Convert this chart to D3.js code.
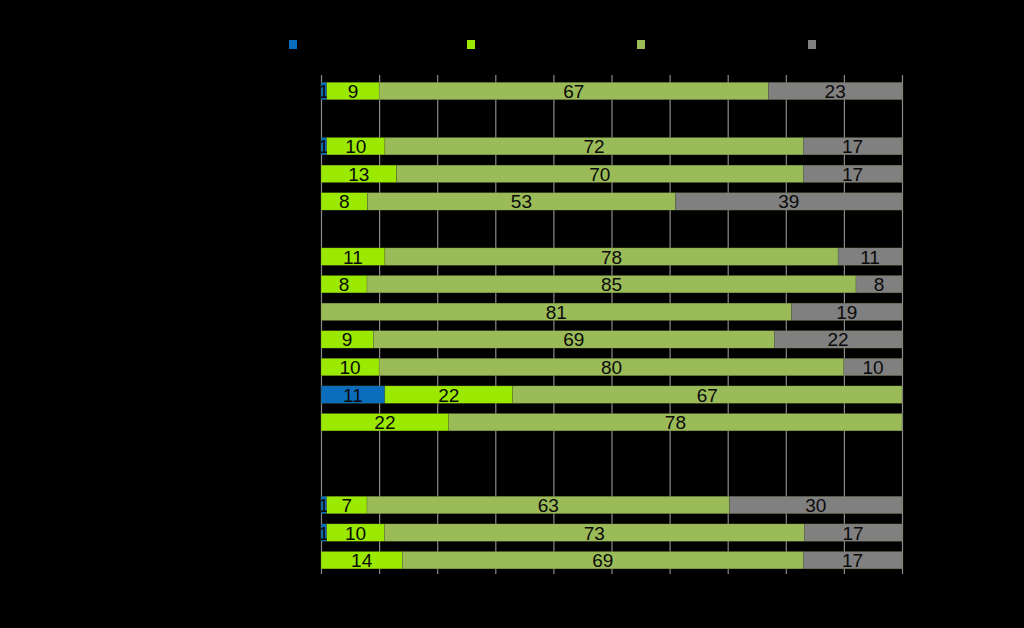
<!DOCTYPE html>
<html>
<head>
<meta charset="utf-8">
<script src="https://cdn.jsdelivr.net/npm/d3@7"></script>
<style>
  html, body { margin: 0; padding: 0; background: #000; }
  svg { display: block; }
</style>
</head>
<body>
<svg id="chart" width="1024" height="628"></svg>
<script>
// Row slots (empty strings are spacer rows)
const categories = ["r0", "", "r2", "r3", "r4", "", "r6", "r7", "r8", "r9", "r10", "r11", "r12", "", "", "r15", "r16", "r17"];
const seriesKeys = ["s1", "s2", "s3", "s4"];
const seriesColors = ["#0a6ebd", "#9be800", "#9bbb59", "#808080"];
const s1 = [1, null, 1, 0, 0, null, 0, 0, 0, 0, 0, 11, 0, null, null, 1, 1, 0];
const s2 = [9, null, 10, 13, 8, null, 11, 8, 0, 9, 10, 22, 22, null, null, 7, 10, 14];
const s3 = [67, null, 72, 70, 53, null, 78, 85, 81, 69, 80, 67, 78, null, null, 63, 73, 69];
const s4 = [23, null, 17, 17, 39, null, 11, 8, 19, 22, 10, 0, 0, null, null, 30, 17, 17];
const xTicks = [0, 10, 20, 30, 40, 50, 60, 70, 80, 90, 100];

const svg = d3.select("#chart");
const x = d3.scaleLinear().domain([0, 100]).range([321, 902]);
const y = d3.scaleBand().domain(d3.range(categories.length)).range([77.2, 574])
  .paddingInner(0.37).paddingOuter(0.185);

// gridlines
svg.append("g").selectAll("line").data(xTicks).join("line")
  .attr("x1", d => x(d) + 0.5).attr("x2", d => x(d) + 0.5)
  .attr("y1", 75).attr("y2", 574)
  .attr("stroke", "#8a8a8a").attr("stroke-width", 1.2);

const series = [s1, s2, s3, s4];
const rows = categories.map((c, i) => {
  if (s1[i] === null) return null;
  const vals = series.map(s => s[i]);
  const total = d3.sum(vals);
  let acc = 0;
  return vals.map((v, k) => {
    const seg = { i, k, v, x0: acc / total * 100, x1: (acc + v) / total * 100 };
    acc += v;
    return seg;
  });
}).filter(r => r);
const segs = rows.flat().filter(s => s.v > 0);

const defs = svg.append("defs");
defs.selectAll("clipPath").data(segs).join("clipPath")
  .attr("id", (d, j) => "c" + j)
  .append("rect")
  .attr("x", d => x(d.x0)).attr("width", d => x(d.x1) - x(d.x0))
  .attr("y", d => y(d.i)).attr("height", y.bandwidth());

const g = svg.append("g");
g.selectAll("rect").data(segs).join("rect")
  .attr("x", d => x(d.x0)).attr("width", d => x(d.x1) - x(d.x0))
  .attr("y", d => y(d.i)).attr("height", y.bandwidth())
  .attr("fill", d => seriesColors[d.k])
  .attr("stroke", "#4f5f2a").attr("stroke-width", 0.3);

g.selectAll("text").data(segs).join("text")
  .attr("clip-path", (d, j) => "url(#c" + j + ")")
  .attr("x", d => (x(d.x0) + x(d.x1)) / 2)
  .attr("y", d => y(d.i) + y.bandwidth() / 2 + 7)
  .attr("text-anchor", "middle")
  .attr("font-family", "Liberation Sans, Arial, sans-serif")
  .attr("font-size", 19)
  .attr("fill", "#0a0a0a")
  .text(d => d.v);

// legend markers
const legendX = [289, 467, 637, 808];
svg.append("g").selectAll("rect").data(seriesKeys).join("rect")
  .attr("x", (d, k) => legendX[k]).attr("y", 40)
  .attr("width", 8).attr("height", 9)
  .attr("fill", (d, k) => seriesColors[k]);
</script>
</body>
</html>
